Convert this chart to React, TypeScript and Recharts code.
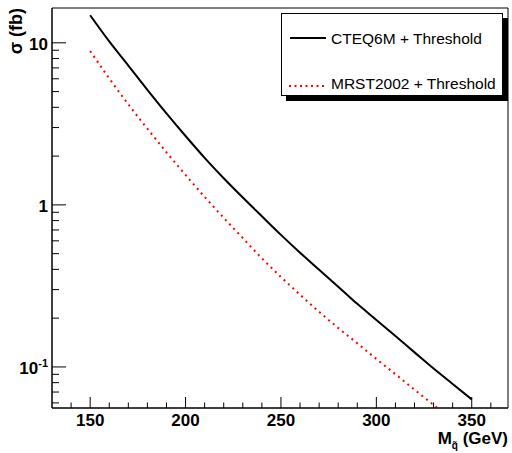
import { LineChart, Line, XAxis, YAxis, ReferenceArea } from "recharts";

const mass = [150, 160, 170, 180, 190, 200, 210, 220, 230, 240, 250, 260, 270, 280, 290, 300, 310, 320, 330, 340, 350];
const cteq = [14.8, 10.2, 7.24, 5.13, 3.67, 2.66, 1.95, 1.46, 1.11, 0.851, 0.653, 0.507, 0.398, 0.313, 0.245, 0.195, 0.155, 0.123, 0.0977, 0.0785, 0.0631];
const mrst = [8.91, 6.03, 4.17, 2.95, 2.11, 1.53, 1.12, 0.832, 0.624, 0.468, 0.359, 0.279, 0.219, 0.174, 0.14, 0.112, 0.0902, 0.0724, 0.0582, 0.0468, null];

const seriesNames = ["CTEQ6M + Threshold", "MRST2002 + Threshold"];
const xTicks = [140, 150, 160, 170, 180, 190, 200, 210, 220, 230, 240, 250, 260, 270, 280, 290, 300, 310, 320, 330, 340, 350, 360];
const xLabels = [150, 200, 250, 300, 350];
const yTicks = [0.06, 0.07, 0.08, 0.09, 0.1, 0.2, 0.3, 0.4, 0.5, 0.6, 0.7, 0.8, 0.9, 1, 2, 3, 4, 5, 6, 7, 8, 9, 10];
const yLabels = [0.1, 1, 10];

const xDomain = [130, 369];
const yDomain = [0.0558, 16.4];

const data = mass.map((m, i) => ({ m, cteq: cteq[i], mrst: mrst[i] }));

const font = "'Liberation Sans', Arial, Helvetica, sans-serif";

function YTick({ x, y, payload }: any) {
  const v = payload.value;
  const major = yLabels.includes(v);
  return (
    <g>
      <line x1={x} x2={x + (major ? 14 : 7)} y1={y} y2={y} stroke="#000" strokeWidth={1} />
      {major && (
        <text x={x - 4} y={y + 7} textAnchor="end" fontFamily={font} fontWeight="bold" fontSize={17} fill="#000">
          {v === 0.1 ? (
            <>
              <tspan>10</tspan>
              <tspan dy={-7} fontSize={11}>-1</tspan>
            </>
          ) : (
            String(v)
          )}
        </text>
      )}
    </g>
  );
}

function XTick({ x, y, payload }: any) {
  const v = payload.value;
  const major = xLabels.includes(v);
  return (
    <g>
      <line x1={x} x2={x} y1={y} y2={y - (major ? 11 : 5.5)} stroke="#000" strokeWidth={1} />
      {major && (
        <text x={x} y={y + 18} textAnchor="middle" fontFamily={font} fontWeight="bold" fontSize={17} fill="#000">
          {v}
        </text>
      )}
    </g>
  );
}

function Legend() {
  return (
    <div style={{ position: "absolute", left: 281, top: 13, width: 222, height: 83 }}>
      <div style={{ position: "absolute", left: 5, top: 5, width: 222, height: 83, background: "#000" }} />
      <svg width={222} height={83} style={{ position: "absolute", left: 0, top: 0, background: "#fff", border: "1px solid #000", boxSizing: "border-box" }}>
        <line x1={8} x2={44} y1={24} y2={24} stroke="#000" strokeWidth={2} />
        <text x={49} y={29.5} fontFamily={font} fontSize={15.5} fill="#000">{seriesNames[0]}</text>
        <line x1={7} x2={44} y1={72} y2={72} stroke="#ff0000" strokeWidth={2} strokeDasharray="2 3.5" />
        <text x={49} y={75} fontFamily={font} fontSize={15.5} fill="#000">{seriesNames[1]}</text>
      </svg>
    </div>
  );
}

export default function App() {
  return (
    <div style={{ position: "absolute", left: 0, top: 0, width: 512, height: 453, background: "#fff" }}>
      <LineChart width={512} height={453} data={data} margin={{ top: 8, right: 4, left: 0, bottom: 0 }}>
        <XAxis
          dataKey="m"
          type="number"
          domain={xDomain}
          allowDataOverflow
          ticks={xTicks}
          interval={0}
          tickSize={0}
          tickMargin={0}
          tickLine={false}
          tick={<XTick />}
          height={45}
          stroke="#000"
          label={{
            content: () => (
              <text x={508} y={444} textAnchor="end" fontFamily={font} fontWeight="bold" fontSize={17} fill="#000">
                M
                <tspan dy={5} fontSize={10}>{"q\u0303"}</tspan>
                <tspan dy={-5} fontSize={17}> (GeV)</tspan>
              </text>
            ),
          }}
        />
        <YAxis
          scale="log"
          domain={yDomain}
          allowDataOverflow
          ticks={yTicks}
          interval={0}
          tickSize={0}
          tickMargin={0}
          tickLine={false}
          tick={<YTick />}
          width={52}
          stroke="#000"
          label={{
            content: () => (
              <text
                transform="translate(22, 8) rotate(-90)"
                textAnchor="end"
                fontFamily={font}
                fontWeight="bold"
                fontSize={18}
                fill="#000"
              >
                σ (fb)
              </text>
            ),
          }}
        />
        <ReferenceArea x1={xDomain[0]} x2={xDomain[1]} y1={yDomain[0]} y2={yDomain[1]} fill="none" stroke="#000" strokeWidth={1} />
        <Line type="monotone" dataKey="cteq" stroke="#000" strokeWidth={2} dot={false} isAnimationActive={false} />
        <Line type="monotone" dataKey="mrst" stroke="#ff0000" strokeWidth={2} strokeDasharray="2 4" dot={false} isAnimationActive={false} />
      </LineChart>
      <Legend />
    </div>
  );
}
